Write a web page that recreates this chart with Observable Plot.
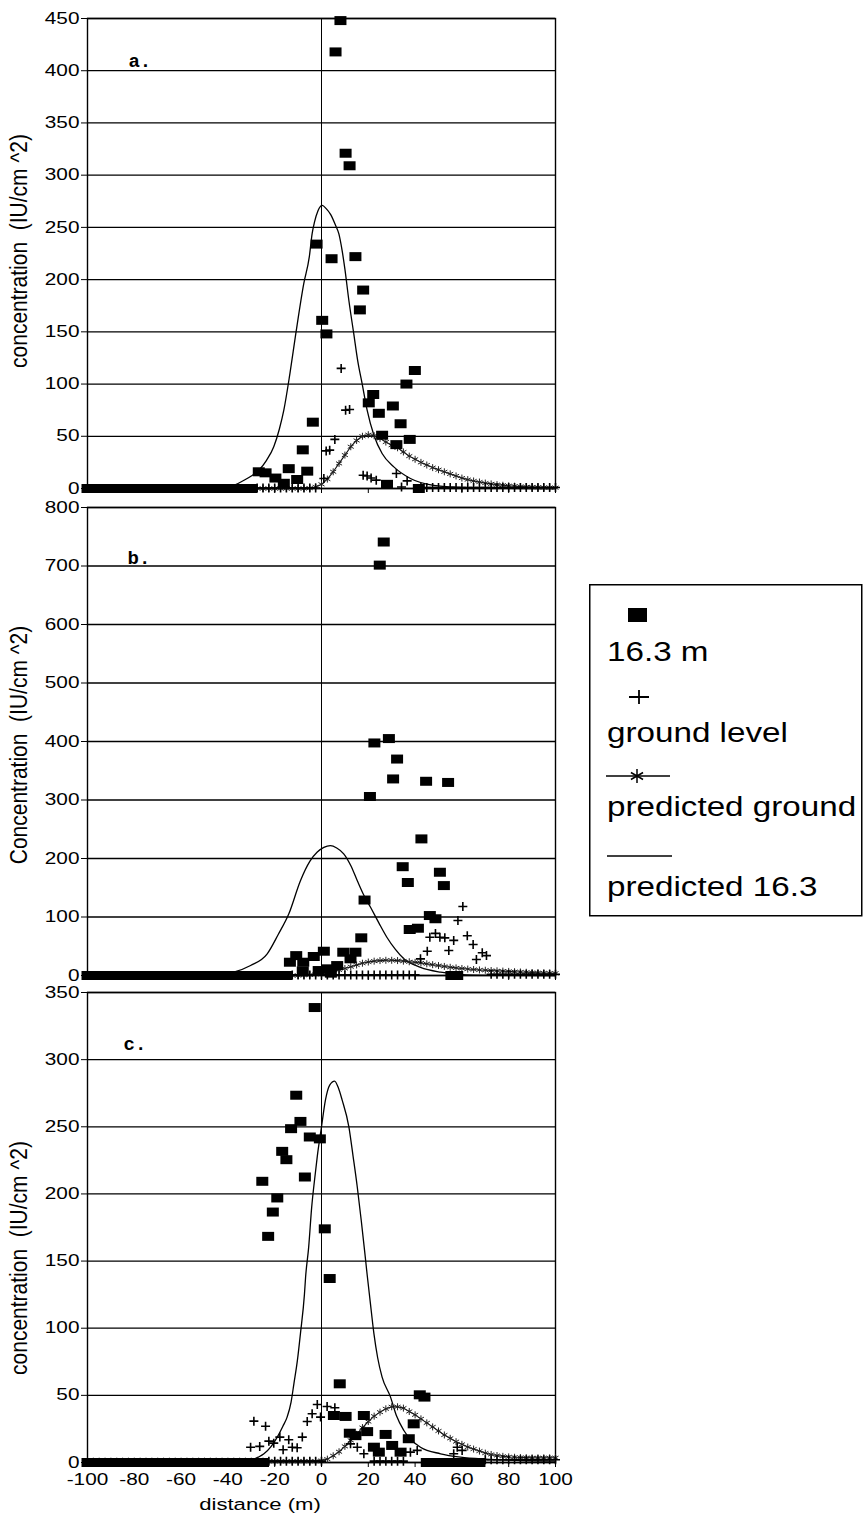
<!DOCTYPE html>
<html><head><meta charset="utf-8">
<script src="https://cdn.jsdelivr.net/npm/d3@7"></script>
<script src="https://cdn.jsdelivr.net/npm/@observablehq/plot@0.6"></script>
<style>
body{margin:0;background:#fff;font-family:"Liberation Sans",Arial,sans-serif;}
#wrap{position:relative;width:868px;height:1515px;overflow:hidden;background:#fff;}
#wrap svg{position:absolute;left:0;overflow:visible;}
</style></head><body><div id="wrap"></div>
<script>
// ---------- tick values ----------
const xTicks = [-100,-80,-60,-40,-20,0,20,40,60,80,100];
const aTicks = [0,50,100,150,200,250,300,350,400,450];
const bTicks = [0,100,200,300,400,500,600,700,800];
const cTicks = [0,50,100,150,200,250,300,350];
const seriesNames = ["16.3 m","ground level","predicted ground","predicted 16.3"];
const panelLetters = ["a.","b.","c."];
const yLabels = ["concentration  (IU/cm ^2)","Concentration  (IU/cm ^2)","concentration  (IU/cm ^2)"];
const xLabel = "distance (m)";

// x positions of the model grid (m)
const gridX = [-100,-97.5,-95,-92.5,-90,-87.5,-85,-82.5,-80,-77.5,-75,-72.5,-70,-67.5,-65,-62.5,-60,-57.5,-55,-52.5,-50,-47.5,-45,-42.5,-40,-37.5,-35,-32.5,-30,-27.5,-25,-22.5,-20,-17.5,-15,-12.5,-10,-7.5,-5,-2.5,0,2.5,5,7.5,10,12.5,15,17.5,20,22.5,25,27.5,30,32.5,35,37.5,40,42.5,45,47.5,50,52.5,55,57.5,60,62.5,65,67.5,70,72.5,75,77.5,80,82.5,85,87.5,90,92.5,95,97.5,100];

// ---------- panel a ----------
const a163Zero = [-100,-97.5,-95,-92.5,-90,-87.5,-85,-82.5,-80,-77.5,-75,-72.5,-70,-67.5,-65,-62.5,-60,-57.5,-55,-52.5,-50,-47.5,-45,-42.5,-40,-37.5,-35,-32.5,-30];
const a163 = [[-26.8,16],[-23.9,15],[-19.7,10],[-16.1,5],[-14,19],[-10.4,8.6],[-8,37],[-6.1,16.6],[-3.7,63.5],[-2.1,234],[0.3,161],[2.1,148],[4.3,220],[6.0,418],[8.1,448],[10.3,321],[12.0,309],[14.5,222],[16.4,171],[17.8,190],[20.2,82],[22.1,90],[24.5,72],[25.9,51],[28,4],[30.5,79],[32,42],[33.8,62],[36.3,100],[37.7,47],[39.9,113],[41.6,0]];
const aGround = [[-27.5,0.5],[-25,0.5],[-22.5,0.5],[-20,0.5],[-17.5,0.5],[-15,0.5],[-12.5,0.5],[-10,0.5],[-7.5,0.5],[-5,0.5],[-2.5,0.5],[1,9.6],[2,36],[3.5,36.7],[5.7,47],[8.4,115],[10.3,75],[12,75.6],[17.8,12.7],[19.5,12],[21.2,10],[23.4,8],[32,14.4],[34.2,1.5],[36.6,7.3],[42.5,1],[45,1],[47.5,1],[50,1],[52.5,1],[55,1],[57.5,1],[60,1],[62.5,1],[65,1],[67.5,1],[70,1],[72.5,1],[75,1],[77.5,1],[80,1],[82.5,1],[85,1],[87.5,1],[90,1],[92.5,1],[95,1],[97.5,1],[100,1]];
const aPredGround = [0,0,0,0,0,0,0,0,0,0,0,0,0,0,0,0,0,0,0,0,0,0,0,0,0,0,0,0,0,0,0,0,0,0,0,0,0,0,0.3,1.5,4,9,16,24,32,40,46,50,51.5,50.5,48,44.5,41.5,39,35,31,28,25,22.5,20,18,16,14,12,10,8.5,7.2,6.2,5.2,4.4,3.7,3.1,2.6,2.2,1.9,1.6,1.4,1.2,1.0,0.9,0.8];
const aPred163 = [[-100,0],[-50,0],[-42,0.5],[-37.5,3],[-33,8],[-30,12],[-26.8,17.5],[-23.5,27],[-20.4,40],[-18,57],[-16.1,75],[-13.5,110],[-11,148],[-7.6,196],[-5.2,222],[-4,244],[-3,255],[-1.5,266],[0.3,271],[2,268],[4,262],[6,252],[7.4,244],[8.8,228],[10,210],[11.7,180],[13.8,148],[15.5,122],[17.4,100],[19.5,75],[22.4,51],[25.9,33.5],[30.9,20.7],[38,9.6],[48,3],[59.4,1],[70,0.3],[100,0]];

// ---------- panel b ----------
const b163Zero = [-100,-97.5,-95,-92.5,-90,-87.5,-85,-82.5,-80,-77.5,-75,-72.5,-70,-67.5,-65,-62.5,-60,-57.5,-55,-52.5,-50,-47.5,-45,-42.5,-40,-37.5,-35,-32.5,-30,-27.5,-25,-22.5,-20,-17.5,-15];
const b163 = [[-13.5,22.7],[-10.8,34],[-8,8],[-7.8,22.7],[-3.3,32.5],[-1.2,8.5],[1,41.5],[2.4,11.4],[4,4],[6.7,17],[9.3,39.8],[12.4,28.5],[14.5,39.8],[17,64.4],[18.4,129],[20.7,306],[22.6,397.5],[24.9,701.5],[26.6,741],[28.8,405],[30.6,336],[32.3,370],[34.7,186],[36.9,159],[37.7,78.6],[41.2,80.8],[42.7,233.5],[44.7,332],[46.3,102.5],[48.7,97],[50.6,176.5],[52.3,153.7],[54.1,330],[55.5,0],[58,0]];
const bGround = [[-12.5,1],[-10,1],[-7.5,1],[-5,1],[-2.5,1],[0,1],[2.5,1],[5,1],[7.5,1],[10,1],[12.5,1],[15,1],[17.5,1],[20,1],[22.5,1],[25,1],[27.5,1],[30,1],[32.5,1],[35,1],[37.5,1],[40,1],[42.3,28.5],[45.2,41.5],[46.3,65.5],[48.7,72],[50.6,65.5],[52.7,64.4],[54.4,42.7],[56.5,60],[58.3,94],[60.4,118],[62.3,68],[64.8,53],[66.2,27.3],[68.7,38.8],[70.5,34],[72.5,2],[75,2],[77.5,2],[80,2],[82.5,2],[85,2],[87.5,2],[90,2],[92.5,2],[95,2],[97.5,2],[100,2]];
const bPredGround = [0,0,0,0,0,0,0,0,0,0,0,0,0,0,0,0,0,0,0,0,0,0,0,0,0,0,0,0,0,0,0,0,0,0,0,0,0,0.5,1,2,3,5,7,9.5,12,15,18,21,23,24.5,25.5,26,26,25.5,24.5,23.5,22.5,21.5,20,18.5,17,15.5,14,13,12,11,10.2,9.5,9,8.5,8,7.5,7,6.5,6,5.5,5,4.7,4.4,4.1,3.8];
const bPred163 = [[-100,0],[-50,0],[-44.6,1],[-37.5,5.7],[-30.3,17],[-23.2,37],[-18.5,70],[-14,105],[-9,162],[-5,195],[-1.8,211],[1,219],[3.8,222],[6.5,218],[9.5,208],[12.5,188],[15.3,162],[18,138],[20.9,117],[24.5,90],[28,65],[31.5,45],[35.2,28.5],[42.3,14],[50.9,5.7],[62,1],[75,0.2],[100,0]];

// ---------- panel c ----------
const c163Zero = [-100,-97.5,-95,-92.5,-90,-87.5,-85,-82.5,-80,-77.5,-75,-72.5,-70,-67.5,-65,-62.5,-60,-57.5,-55,-52.5,-50,-47.5,-45,-42.5,-40,-37.5,-35,-32.5,-30,-27.5,-25,45,47.5,50,52.5,55,57.5,60,62.5,65,67.5];
const c163 = [[-25.3,209.4],[-22.8,168.4],[-20.8,186.5],[-18.9,197],[-16.8,231.7],[-15,225.5],[-13,248.6],[-10.8,273.5],[-9,254],[-7.1,212.6],[-5,242.4],[-2.9,338.8],[-0.7,241],[1.4,174],[3.5,137],[5.3,35],[7.8,58.6],[10.3,34.3],[12.1,21.8],[14.5,20],[18.1,35],[19.5,23],[22.4,11.4],[24.5,7.7],[27.4,20.9],[30.2,12.7],[33.8,7.7],[37.3,17.7],[39.4,28.8],[42,50.4],[44,48.7]];
const cGround = [[-30.3,11.4],[-28.9,30.8],[-26.4,12],[-23.9,27],[-22.5,15.9],[-20.4,14.4],[-17.8,18.9],[-16.4,9.5],[-14,16.9],[-12.5,11.4],[-10.4,11],[-8.2,18.9],[-6.1,30.5],[-4,36.3],[-1.8,43.2],[-0.4,33.8],[2.4,41.7],[5.7,40.8],[12.4,13.9],[15.3,11.4],[18.1,6.5],[38,7.7],[40.9,9],[56.5,6.5],[58,11.4],[60.1,9],[-22.5,1],[-20,1],[-17.5,1],[-15,1],[-12.5,1],[-10,1],[-7.5,1],[-5,1],[-2.5,1],[0,1],[22.5,1],[25,1],[27.5,1],[30,1],[32.5,1],[35,1],[70,2],[72.5,2],[75,2],[77.5,2],[80,2],[82.5,2],[85,2],[87.5,2],[90,2],[92.5,2],[95,2],[97.5,2],[100,2]];
const cPredGround = [1,1,1,1,1,1,1,1,1,1,1,1,1,1,1,1,1,1,1,1,1,1,1,1,1,1,1,1,1,1,1,1,1,1,1,1,1,1,1,1,1.5,2.5,5,8,12,16.5,21,26,30.5,34.5,37.5,40,41.5,41.5,40.5,38,35.5,32.5,29.5,26.5,23.5,20.5,18,15.5,13.5,11.5,10,8.5,7,6,5.2,4.6,4.2,3.9,3.7,3.6,3.5,3.5,3.5,3.5,3.5];
const cPred163 = [[-100,0],[-40,0],[-35,0.5],[-30.3,1.5],[-27,4],[-24.6,6.5],[-21.5,12],[-18.9,18.9],[-16.5,27],[-14.7,33.8],[-13,45],[-11.8,58.6],[-10.3,76],[-9,96],[-7.3,125],[-6.8,138],[-5.5,160],[-4.2,190],[-3,210],[-1.8,228],[0,250],[1.7,270],[3.5,281],[5.6,284],[7.2,279],[8.8,270],[11.7,250],[13.5,228],[15.3,205],[17,180],[18.4,158],[19.5,140],[20.8,120],[22.4,96],[24,78],[25.9,63.6],[29.5,48.7],[32,35],[35.2,23.8],[42.3,11.4],[50.9,6.5],[59.4,4],[70,2.5],[85,1.5],[100,1]];

// ---------- symbols ----------
const sqSym = {draw(ctx){ ctx.rect(-6,-4.5,12,9); }};
const plusSym = {draw(ctx){ ctx.moveTo(-4.5,0); ctx.lineTo(4.5,0); ctx.moveTo(0,-4.5); ctx.lineTo(0,4.5); }};
const astSym = {draw(ctx){ const r=3.5,t=r/2,u=t*Math.sqrt(3);
  ctx.moveTo(0,r);ctx.lineTo(0,-r);ctx.moveTo(-u,-t);ctx.lineTo(u,t);ctx.moveTo(-u,t);ctx.lineTo(u,-t); }};

const SX = 1.3; // horizontal stretch of the scanned lettering
const wrap = document.getElementById("wrap");

function panel(cfg){
  const predG = gridX.map((x,i)=>[x,cfg.predGround[i]]);
  const sqAll = cfg.sqZero.map(x=>[x,0]).concat(cfg.sq);
  const svg = Plot.plot({
    width: 560, height: cfg.mt + cfg.ph + cfg.mb,
    marginLeft: 87, marginRight: 5, marginTop: cfg.mt, marginBottom: cfg.mb,
    style:{fontFamily:"'Liberation Sans',Arial,sans-serif",fontSize:"16px",color:"black",background:"transparent",overflow:"visible"},
    x:{domain:[-100,100]},
    y:{domain:cfg.domain},
    marks:[
      Plot.gridY(cfg.ticks,{stroke:"black",strokeOpacity:1,strokeWidth:1.3}),
      Plot.ruleX([0],{stroke:"black",strokeWidth:1}),
      Plot.frame({stroke:"black",strokeWidth:1.4}),
      Plot.axisY(cfg.ticks,{tickSize:6,tickPadding:2,fontSize:16,label:null,tickFormat:d=>String(d)}),
      Plot.axisX(xTicks,{tickSize:5,tickPadding:6,fontSize:16,label:null,tickFormat:cfg.showX?(d=>String(d)):(()=>"")}),
      Plot.line(cfg.pred163,{x:d=>d[0],y:d=>d[1],curve:"monotone-x",stroke:"black",strokeWidth:1.3}),
      Plot.line(predG,{x:d=>d[0],y:d=>d[1],stroke:"#111",strokeWidth:1.1}),
      Plot.dot(predG,{x:d=>d[0],y:d=>d[1],symbol:astSym,r:3,fill:"none",stroke:"#222",strokeWidth:1}),
      Plot.dot(cfg.ground,{x:d=>d[0],y:d=>d[1],symbol:plusSym,r:4,fill:"none",stroke:"black",strokeWidth:1.6}),
      Plot.dot(sqAll,{x:d=>d[0],y:d=>d[1],symbol:sqSym,r:5,fill:"black",stroke:"none"}),
      Plot.text([cfg.letter],{x:cfg.lx,y:cfg.ly,text:d=>d,textAnchor:"start",fontFamily:"'Liberation Mono',monospace",fontWeight:"bold",fontSize:19})
    ]
  });
  svg.style.top = cfg.top + "px";
  svg.querySelectorAll('g[aria-label$="tick label"] text').forEach(t=>{
    const tr = t.getAttribute("transform");
    if (tr) t.setAttribute("transform", tr + ` scale(${SX},1)`);
  });
  const s = d3.select(svg);
  s.append("text").attr("transform",`translate(19,${cfg.labelY}) scale(1.1,1) rotate(-90)`)
    .attr("text-anchor","middle").attr("dominant-baseline","central")
    .attr("font-size",21).attr("fill","black").style("white-space","pre").text(cfg.ylabel);
  if (cfg.showX){
    s.append("text").attr("transform",`translate(260,${cfg.mt+cfg.ph+48}) scale(${SX},1)`)
      .attr("text-anchor","middle").attr("font-size",17).attr("fill","black").text(xLabel);
  }
  wrap.appendChild(svg);
}

panel({top:0,mt:18,ph:470,mb:10,domain:[0,450],ticks:aTicks,sq:a163,sqZero:a163Zero,ground:aGround,predGround:aPredGround,pred163:aPred163,letter:panelLetters[0],lx:-82.5,ly:409,ylabel:yLabels[0],labelY:251,showX:false});
panel({top:497,mt:10,ph:468,mb:10,domain:[0,800],ticks:bTicks,sq:b163,sqZero:b163Zero,ground:bGround,predGround:bPredGround,pred163:bPred163,letter:panelLetters[1],lx:-82.9,ly:714,ylabel:yLabels[1],labelY:248,showX:false});
panel({top:982,mt:10,ph:470,mb:53,domain:[0,350],ticks:cTicks,sq:c163,sqZero:c163Zero,ground:cGround,predGround:cPredGround,pred163:cPred163,letter:panelLetters[2],lx:-84.6,ly:312,ylabel:yLabels[2],labelY:276,showX:true});

// ---------- legend ----------
const L = d3.select(wrap).append("svg").attr("width",274).attr("height",334)
  .style("left","589px").style("top","584px");
L.append("rect").attr("x",0.75).attr("y",0.75).attr("width",272).attr("height",331)
  .attr("fill","white").attr("stroke","black").attr("stroke-width",1.5);
const lg = L.append("g").attr("fill","black").attr("font-size",27).attr("font-family","'Liberation Sans',Arial,sans-serif");
L.append("rect").attr("x",39).attr("y",24).attr("width",19).attr("height",14).attr("fill","black");
L.append("path").attr("d","M40,113H60M50,106V120").attr("stroke","black").attr("stroke-width",1.8);
L.append("path").attr("d","M17,192H81").attr("stroke","black").attr("stroke-width",1.3);
L.append("path").attr("d",(()=>{const r=7,t=r/2,u=t*Math.sqrt(3),cx=48,cy=192;
  return `M${cx},${cy-r}V${cy+r}M${cx-u},${cy-t}L${cx+u},${cy+t}M${cx-u},${cy+t}L${cx+u},${cy-t}`;})())
  .attr("stroke","black").attr("stroke-width",1.5);
L.append("path").attr("d","M18,272H83").attr("stroke","black").attr("stroke-width",1.5);
const baselines = [77,158,232,312];
seriesNames.forEach((n,i)=>{
  lg.append("text").attr("transform",`translate(18,${baselines[i]}) scale(1.23,1)`).text(n);
});
</script>
</body></html>
